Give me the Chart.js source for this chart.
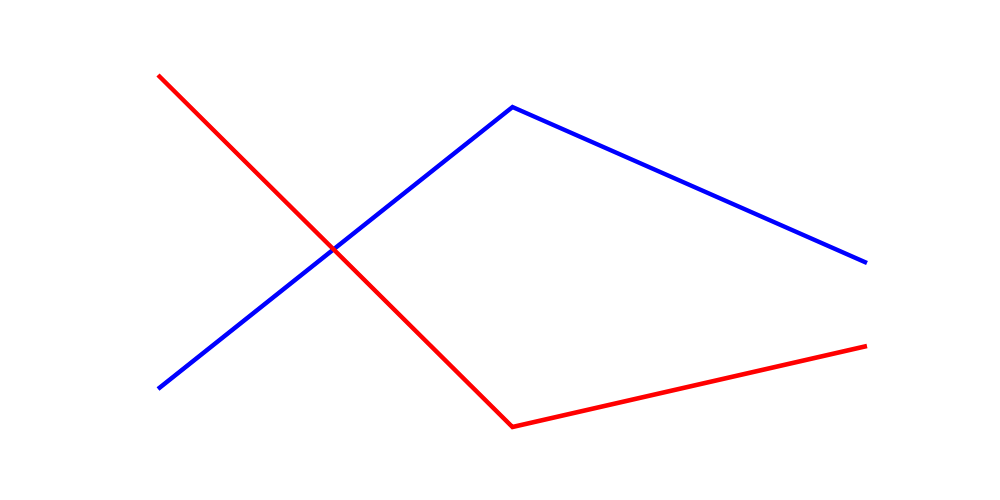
<!DOCTYPE html>
<html>
<head>
<meta charset="utf-8">
<script src="https://cdn.jsdelivr.net/npm/chart.js@4"></script>
<style>
  html, body { margin: 0; padding: 0; background: #fff; }
  #wrap { width: 1000px; height: 500px; }
</style>
</head>
<body>
<div id="wrap"><canvas id="chart"></canvas></div>
<script>
// data (y scale 0..10)
const categories = ['A', 'B', 'C'];
const redValues = [10, 0, 2.3];
const blueValues = [1.08, 9.09, 4.66];

const ctx = document.getElementById('chart').getContext('2d');
new Chart(ctx, {
    type: 'line',
    data: {
        labels: categories,
        datasets: [{
            label: 'red',
            data: redValues,
            borderColor: '#ff0000',
            borderWidth: 4.5,
            pointRadius: 0,
            tension: 0,
            clip: false
        }, {
            label: 'blue',
            data: blueValues,
            borderColor: '#0000ff',
            borderWidth: 4.5,
            pointRadius: 0,
            tension: 0,
            clip: false
        }]
    },
    options: {
        responsive: true,
        maintainAspectRatio: false,
        animation: false,
        layout: {
            padding: { left: 158, right: 133, top: 75, bottom: 73 }
        },
        scales: {
            x: { display: false, offset: false },
            y: { display: false, min: 0, max: 10 }
        },
        plugins: {
            legend: { display: false },
            tooltip: { enabled: false }
        }
    }
});
</script>
</body>
</html>
